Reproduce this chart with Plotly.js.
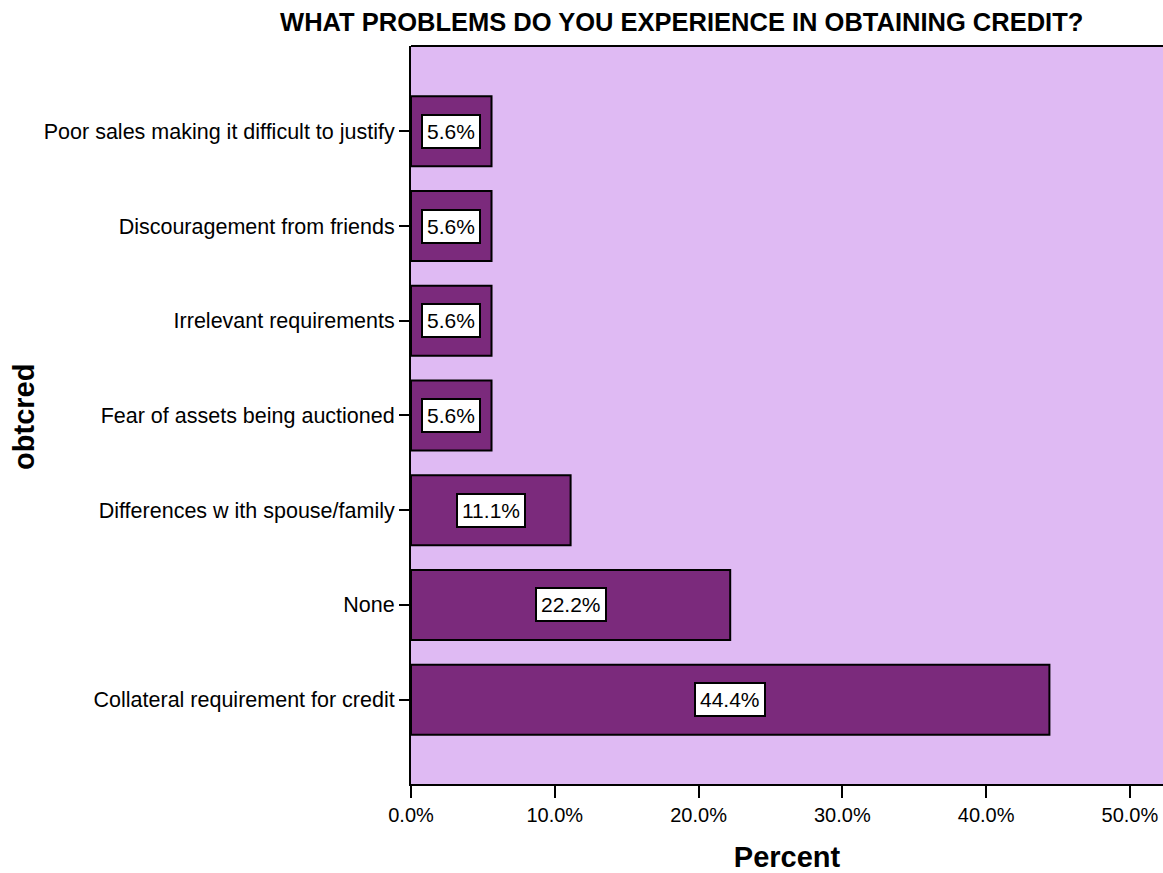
<!DOCTYPE html>
<html>
<head>
<meta charset="utf-8">
<script src="https://cdn.plot.ly/plotly-3.0.1.min.js"></script>
<style>html,body{margin:0;padding:0;background:#fff;}#chart{width:1163px;height:873px;}</style>
</head>
<body>
<div id="chart"></div>
<script>
const categories = [
  "Collateral requirement for credit",
  "None",
  "Differences w ith spouse/family",
  "Fear of assets being auctioned",
  "Irrelevant requirements",
  "Discouragement from friends",
  "Poor sales making it difficult to justify"
];
const percents = [44.4, 22.2, 11.1, 5.6, 5.6, 5.6, 5.6];
const tickVals = [0, 10, 20, 30, 40, 50];
const tickText = ["0.0%", "10.0%", "20.0%", "30.0%", "40.0%", "50.0%"];

const FONT = "Liberation Sans, Arial, sans-serif";

const trace = {
  type: "bar",
  orientation: "h",
  x: percents,
  y: categories,
  marker: {color: "#7B2A7C", line: {color: "#000", width: 2}},
  hoverinfo: "none"
};

const annotations = percents.map((v, i) => ({
  x: v / 2, y: categories[i], xref: "x", yref: "y",
  text: v.toFixed(1) + "%", showarrow: false,
  font: {family: FONT, size: 21, color: "#000"},
  bgcolor: "#fff", bordercolor: "#000", borderwidth: 2, borderpad: 4
}));

annotations.push({
  xref: "paper", yref: "paper", x: -0.515, y: 0.497,
  text: "<b>obtcred</b>", textangle: -90, showarrow: false,
  font: {family: FONT, size: 29, color: "#000"},
  xanchor: "center", yanchor: "middle"
});

const layout = {
  width: 1163, height: 873,
  margin: {l: 411, r: 0, t: 46, b: 89},
  paper_bgcolor: "#fff",
  plot_bgcolor: "#DFBAF3",
  bargap: 0.26,
  showlegend: false,
  font: {family: FONT, color: "#000"},
  title: {
    text: "<b>WHAT PROBLEMS DO YOU EXPERIENCE IN OBTAINING CREDIT?</b>",
    font: {size: 25.5, family: FONT},
    xref: "paper", x: 0.36, xanchor: "center",
    yref: "container", y: 0.975, yanchor: "middle"
  },
  xaxis: {
    range: [0, 52.3],
    tickvals: tickVals, ticktext: tickText,
    ticks: "outside", ticklen: 12, tickwidth: 2, tickcolor: "#000",
    showgrid: false, zeroline: false,
    showline: true, linecolor: "#000", linewidth: 2,
    tickfont: {size: 20},
    title: {text: "<b>Percent</b>", font: {size: 29}, standoff: 22}
  },
  yaxis: {
    range: [-0.89, 6.9],
    ticks: "outside", ticklen: 10, tickwidth: 2, tickcolor: "#000",
    showgrid: false, zeroline: false,
    showline: true, linecolor: "#000", linewidth: 2, mirror: false,
    tickfont: {size: 21.5}
  },
  shapes: [
    {type: "line", xref: "paper", yref: "paper", x0: 0, x1: 1, y0: 1, y1: 1, line: {color: "#000", width: 2}}
  ],
  annotations: annotations
};

Plotly.newPlot("chart", [trace], layout, {displayModeBar: false, staticPlot: true});
</script>
</body>
</html>
